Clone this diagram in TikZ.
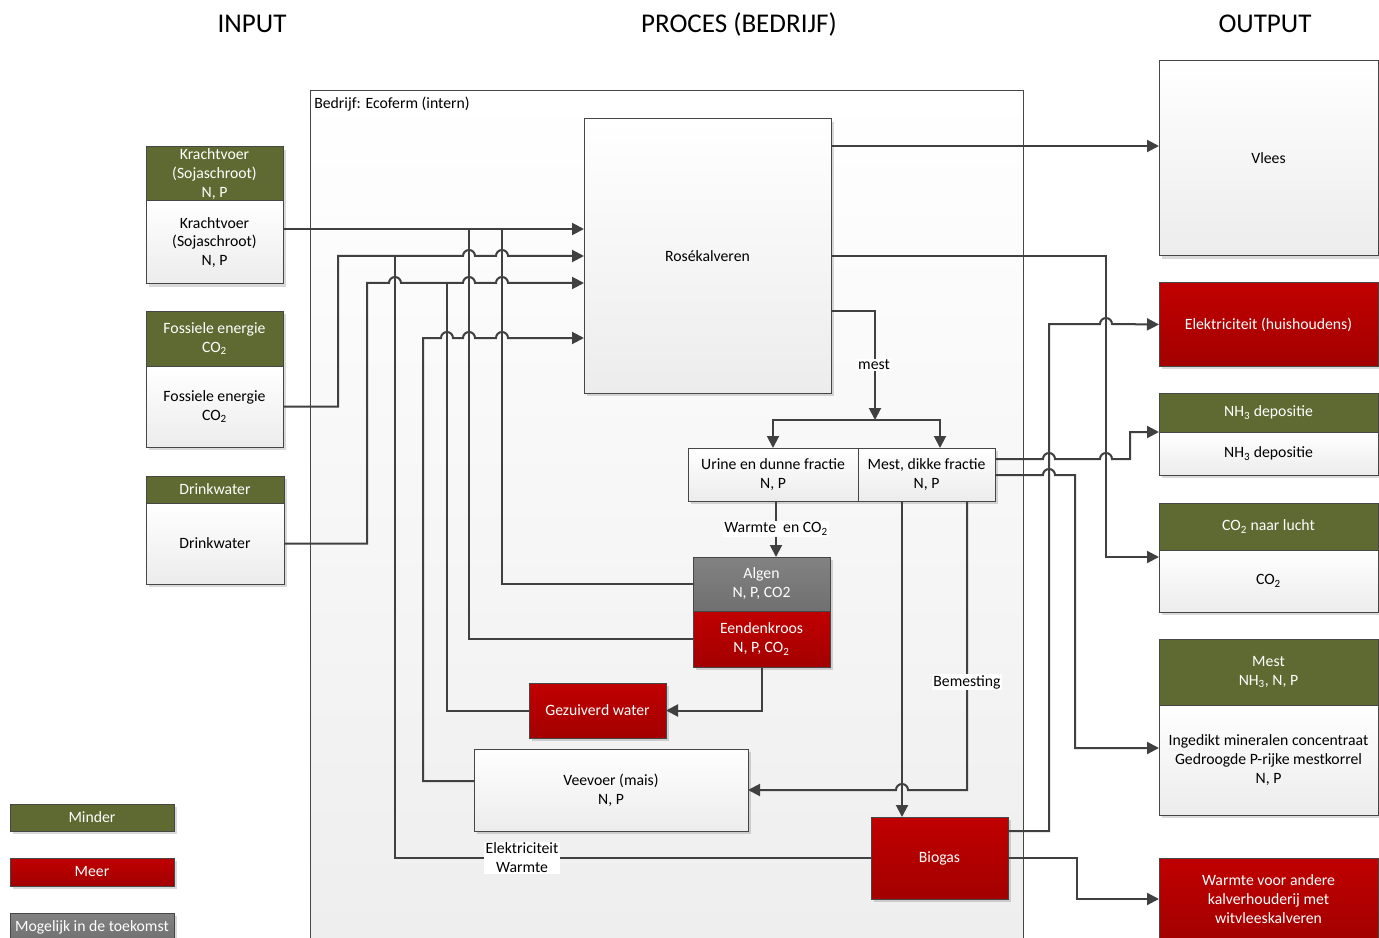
\documentclass[tikz,border=0pt]{standalone}
\usepackage{fontspec}
\setmainfont{Carlito}
\usetikzlibrary{arrows.meta,shadows}
\definecolor{gr}{RGB}{94,106,50}
\definecolor{rdT}{RGB}{192,0,0}
\definecolor{rdB}{RGB}{163,0,0}
\definecolor{gyT}{RGB}{130,130,130}
\definecolor{gyB}{RGB}{112,112,112}
\definecolor{ln}{RGB}{64,64,64}
\definecolor{bd}{RGB}{70,70,70}
\definecolor{wB}{RGB}{236,236,236}
\definecolor{cB}{RGB}{238,238,238}
\newcommand\bx[7]{\node[#1, minimum width={(#5-#3)*0.75pt}, minimum height={(#6-#4)*0.75pt}] (#2) at ({(#3+#5)/2},{(#4+#6)/2}) {#7};}
\newcommand\hopR[2]{-- ({#1-6},#2) arc[start angle=180,end angle=0,radius=4.5pt]}
\newcommand\hopL[2]{-- ({#1+6},#2) arc[start angle=0,end angle=180,radius=4.5pt]}
\begin{document}
\begin{tikzpicture}[x=0.75pt,y=-0.75pt,
  base/.style={rectangle, outer sep=0pt, inner sep=0pt, align=center,
    font=\fontsize{11.8}{14.2}\selectfont, draw=bd, line width=0.75pt,
    drop shadow={shadow xshift=2.2pt,shadow yshift=-2.2pt,fill=black,opacity=0.15}},
  wbox/.style={base, top color=white, bottom color=wB},
  gbox/.style={base, fill=gr, text=white},
  rbox/.style={base, top color=rdT, bottom color=rdB, text=white},
  ybox/.style={base, top color=gyT, bottom color=gyB, text=white},
  conn/.style={draw=ln, line width=1.5pt},
  arr/.style={conn, -{Triangle[length=9pt,width=9pt]}},
  lbl/.style={fill=white, inner sep=1pt, align=center, font=\fontsize{11.8}{14.2}\selectfont},
  ttl/.style={font=\fontsize{20.3}{24}\selectfont}
]
\useasboundingbox (0,0) rectangle (1379,938);
\fill[white] (0,0) rectangle (1379,938);

% titles
\node[ttl] (tin) at (252,24) {INPUT};
\node[ttl] (tproc) at (739,24) {PROCES (BEDRIJF)};
\node[ttl] (tout) at (1265,24) {OUTPUT};

% container
\fill[top color=white, bottom color=cB] (310,91) rectangle (1023,938);
\draw[bd, line width=0.75pt] (310,938) -- (310,91) -- (1023,91) -- (1023,938);
\node[anchor=west, inner sep=0pt, font=\fontsize{11.8}{14.2}\selectfont] (bedrijf) at (314,104.5) {Bedrijf: Ecoferm (intern)};

% inputs
\bx{gbox}{kvh}{146}{147}{283}{201}{Krachtvoer\\(Sojaschroot)\\N, P}
\bx{wbox}{kvb}{146}{201}{283}{284}{Krachtvoer\\(Sojaschroot)\\N, P}
\bx{gbox}{feh}{146}{311}{283}{366}{Fossiele energie\\CO\textsubscript{2}}
\bx{wbox}{feb}{146}{366}{283}{447}{Fossiele energie\\CO\textsubscript{2}}
\bx{gbox}{dwh}{146}{476}{284}{503}{Drinkwater}
\bx{wbox}{dwb}{146}{503}{284}{584}{Drinkwater}

% process
\bx{wbox}{rose}{584}{119}{831}{393}{Rosékalveren}
\bx{wbox}{urine}{688}{448}{858}{501}{Urine en dunne fractie\\N, P}
\bx{wbox}{mestd}{858}{448}{995}{501}{Mest, dikke fractie\\N, P}
\bx{ybox}{algen}{693}{557}{830}{611}{Algen\\N, P, CO2}
\bx{rbox}{eend}{693}{611}{830}{667}{Eendenkroos\\N, P, CO\textsubscript{2}}
\bx{rbox}{gez}{529}{683}{666}{738}{Gezuiverd water}
\bx{wbox}{vee}{474}{749}{748}{831}{Veevoer (mais)\\N, P}
\bx{rbox}{bio}{871}{817}{1008}{899}{Biogas}

% outputs
\bx{wbox}{vlees}{1159}{61}{1378}{256}{Vlees}
\bx{rbox}{elek}{1159}{283}{1378}{366}{Elektriciteit (huishoudens)}
\bx{gbox}{nh3h}{1159}{393}{1378}{432}{NH\textsubscript{3} depositie}
\bx{wbox}{nh3b}{1159}{432}{1378}{475}{NH\textsubscript{3} depositie}
\bx{gbox}{co2h}{1159}{503}{1378}{550}{CO\textsubscript{2} naar lucht}
\bx{wbox}{co2b}{1159}{550}{1378}{612}{CO\textsubscript{2}}
\bx{gbox}{mesth}{1159}{639}{1378}{705}{Mest\\NH\textsubscript{3}, N, P}
\bx{wbox}{mestb}{1159}{705}{1378}{815}{Ingedikt mineralen concentraat\\Gedroogde P-rijke mestkorrel\\N, P}
\bx{rbox}{warm}{1159}{858}{1378}{940}{Warmte voor andere\\kalverhouderij met\\witvleeskalveren}

% legend
\bx{gbox}{lminder}{10}{804}{174}{831}{Minder}
\bx{rbox}{lmeer}{10}{858}{174}{886}{Meer}
\bx{ybox}{lmog}{10}{913}{174}{941}{Mogelijk in de toekomst}

% connectors into Rosékalveren
\draw[arr] (kvb.east |- 0,229) -- (rose.west |- 0,229);
\draw[arr] (feb.east) -| (338,256) \hopR{469}{256} \hopR{502}{256} -- (rose.west);
\draw[arr] (dwb.east) -| (367,283) \hopR{395}{283} \hopR{469}{283} \hopR{502}{283} -- (rose.west |- 0,283);
\draw[arr] (vee.west |- 0,781) -| (423,338) \hopR{447}{338} \hopR{469}{338} \hopR{502}{338} -- (rose.west |- 0,338);
\draw[conn] (bio.west) -| (395,256);
\draw[conn] (gez.west) -| (447,283);
\draw[conn] (eend.west) -| (469,229);
\draw[conn] (algen.west) -| (502,229);
\node[lbl] (lelek) at (522,858) {Elektriciteit\\Warmte};

% connectors out of Rosékalveren
\draw[arr] (rose.east |- 0,146) -- (vlees.west |- 0,146);
\draw[arr] (rose.east) -| (1106,557) -- (co2b.west |- 0,557);
\coordinate (split) at (875,420);
\draw[arr] (rose.east |- 0,311) -| (split);
\node[lbl] (lmest) at (874,365) {mest};
\draw[arr] (split) -| (urine.north);
\draw[arr] (split) -| (mestd.north -| 940,0);

% inner flows
\draw[arr] (urine.south -| 776,0) -- (algen.north -| 776,0) node[lbl, midway] (lwco) {Warmte\ \ en CO\textsubscript{2}};
\draw[arr] (eend.south) |- (gez.east);
\draw[arr] (mestd.south -| 902,0) -- (bio.north -| 902,0);
\draw[arr] (mestd.south -| 967,0) -- (967,790) \hopL{902}{790} -- (vee.east);
\node[lbl] (lbem) at (967,682) {Bemesting};

% outputs
\draw[arr] (mestd.east |- 0,459) \hopR{1049}{459} \hopR{1106}{459} -- (1130,459) -- (1130,432) -- (nh3b.north west);
\draw[arr] (mestd.east |- 0,475) \hopR{1049}{475} -| (1075,748) -- (mestb.west |- 0,748);
\draw[arr] (bio.east |- 0,831) -| (1049,324) \hopR{1106}{324} -- (elek.west);
\draw[arr] (bio.east) -| (1077,899) -- (warm.west |- 0,899);
\end{tikzpicture}
\end{document}
